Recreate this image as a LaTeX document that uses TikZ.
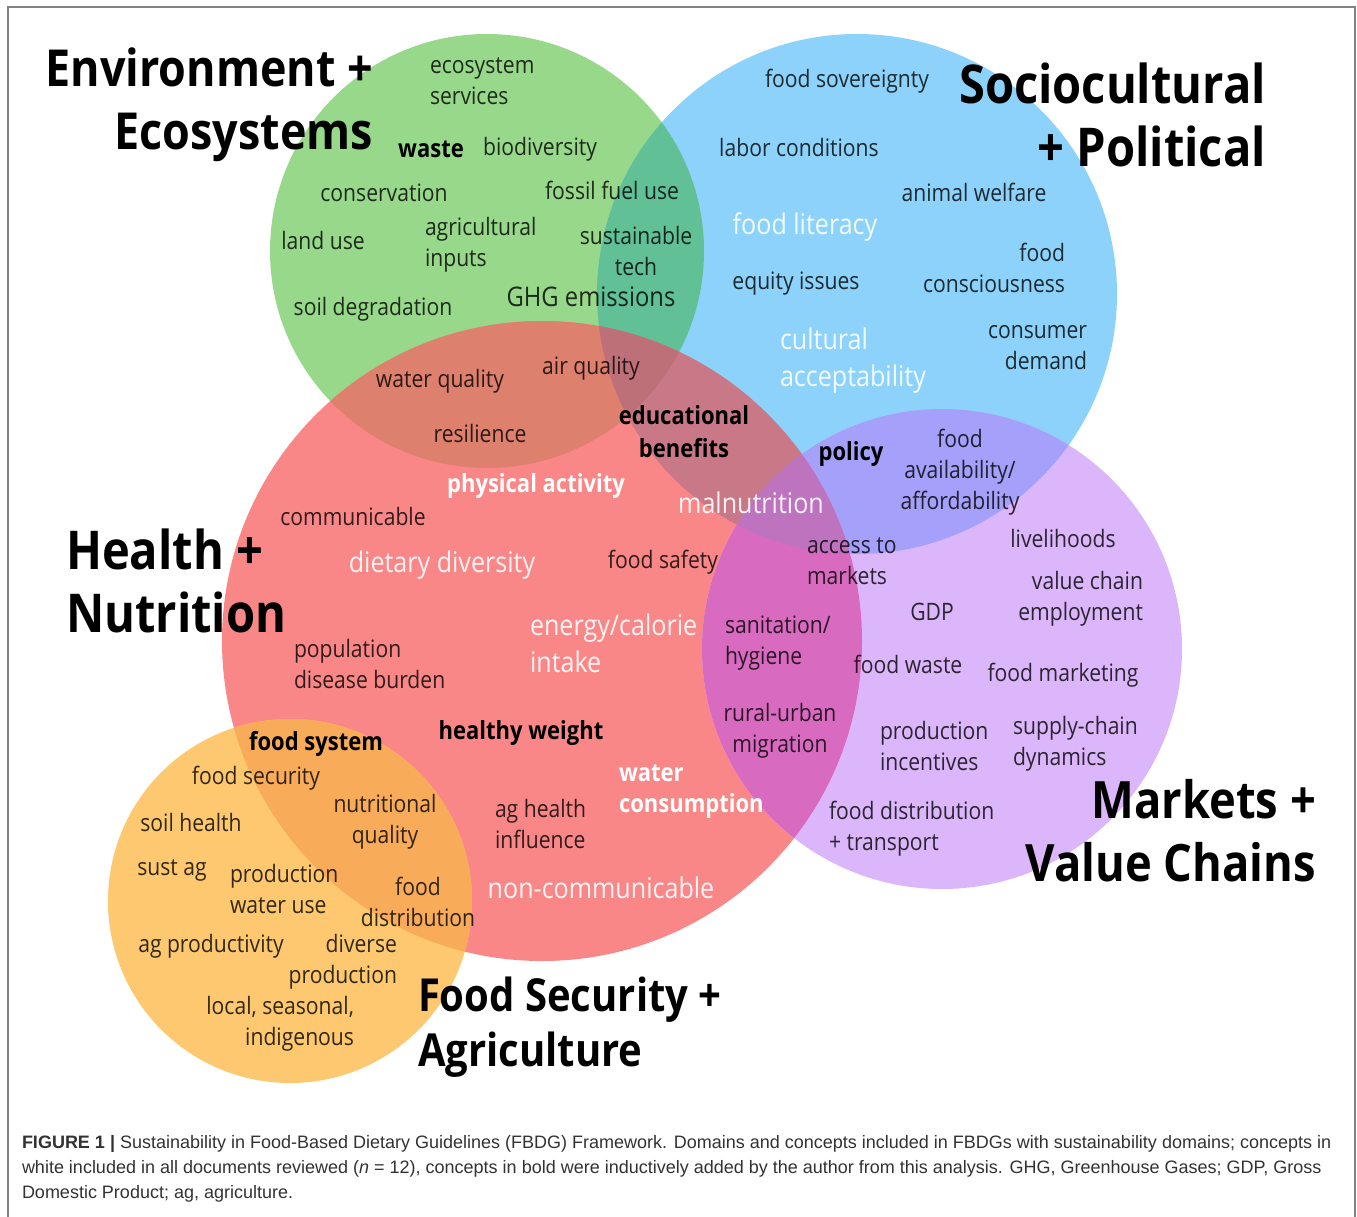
\documentclass[tikz,border=0pt]{standalone}
\usepackage{fontspec}
\setmainfont{Open Sans}[FakeStretch=0.88]
\newfontfamily\capfont{Liberation Sans}[FakeStretch=1.0]
\definecolor{c97d88b}{RGB}{151,216,139}
\definecolor{c8cd2fa}{RGB}{140,210,250}
\definecolor{cfa8787}{RGB}{250,135,135}
\definecolor{cdcb6fa}{RGB}{220,182,250}
\definecolor{cfdc870}{RGB}{253,200,112}
\definecolor{c62c096}{RGB}{98,192,150}
\definecolor{cde806e}{RGB}{222,128,110}
\definecolor{cc87887}{RGB}{200,120,135}
\definecolor{cd86bc0}{RGB}{216,107,192}
\definecolor{ca5a0fa}{RGB}{165,160,250}
\definecolor{cf8ac5a}{RGB}{248,172,90}
\definecolor{cbe7078}{RGB}{190,112,120}
\definecolor{cbe73be}{RGB}{190,115,190}
\definecolor{c828282}{RGB}{130,130,130}
\definecolor{c323232}{RGB}{50,50,50}
\tikzset{
  lbl/.style={text=black, text opacity=0.8, font=\fontsize{24}{31}\selectfont},
  lblbig/.style={text=black, text opacity=0.8, font=\fontsize{27}{31}\selectfont},
  lblw/.style={text=white, text opacity=0.9, font=\fontsize{28.5}{37}\selectfont},
  lblb/.style={text=black, font=\bfseries\fontsize{25}{33}\selectfont},
  lblbw/.style={text=white, font=\bfseries\fontsize{25}{31}\selectfont},
  dom/.style={text=black, font=\bfseries\fontsize{#1}{63}\selectfont},
}

\begin{document}
\begin{tikzpicture}[y=1pt, x=1pt, yscale=-1, inner sep=0pt, outer sep=0pt]
  \useasboundingbox (0,0) rectangle (1357,1217);
  \path[draw=c828282, line width=1.2pt] (8,1230) -- (8,7) -- (1355,7) -- (1355,1230);

  % circles
  \coordinate (cG) at (487,251);
  \coordinate (cB) at (857,294);
  \coordinate (cR) at (542,641);
  \coordinate (cP) at (942,649);
  \coordinate (cO) at (290,901);
  \path[fill=c97d88b] (cG) circle (217pt);
  \path[fill=c8cd2fa] (cB) circle (260pt);
  \path[fill=cfa8787] (cR) circle (320pt);
  \path[fill=cdcb6fa] (cP) circle (240pt);
  \path[fill=cfdc870] (cO) circle (182pt);

  % overlaps
  \begin{scope}
    \clip (cG) circle (217pt);
    \path[fill=c62c096] (cB) circle (260pt);
    \path[fill=cde806e] (cR) circle (320pt);
  \end{scope}
  \begin{scope}
    \clip (cB) circle (260pt);
    \path[fill=cc87887] (cR) circle (320pt);
    \path[fill=ca5a0fa] (cP) circle (240pt);
  \end{scope}
  \begin{scope}
    \clip (cR) circle (320pt);
    \path[fill=cd86bc0] (cP) circle (240pt);
    \path[fill=cf8ac5a] (cO) circle (182pt);
  \end{scope}
  \begin{scope}
    \clip (cG) circle (217pt);
    \clip (cB) circle (260pt);
    \path[fill=cbe7078] (cR) circle (320pt);
  \end{scope}
  \begin{scope}
    \clip (cB) circle (260pt);
    \clip (cP) circle (240pt);
    \path[fill=cbe73be] (cR) circle (320pt);
  \end{scope}

  % domain titles
  \node[dom=51, anchor=east, align=right] (env) at (373,105) {Environment +\\Ecosystems};
  \node[dom=53.5, anchor=east, align=right] (socio) at (1266,115) {Sociocultural\\+ Political};
  \node[dom=53.5, anchor=west, align=left] (health) at (66,581) {Health +\\Nutrition};
  \node[dom=51.5, anchor=east, align=right] (markets) at (1316,831) {Markets +\\Value Chains};
  \node[anchor=west, align=left, text=black, font=\bfseries\fontsize{45.5}{55}\selectfont] (foodsec) at (418,1027) {Food Security +\\Agriculture};

  % environment + ecosystems
  \node[lbl, anchor=west, align=left] (ecoserv) at (430,81) {ecosystem\\services};
  \node[lblb] (waste) at (431,149) {waste};
  \node[lbl] (biodiv) at (540,149) {biodiversity};
  \node[lbl] (conserv) at (384,193) {conservation};
  \node[lbl] (fossil) at (612,190) {fossil fuel use};
  \node[lbl] (landuse) at (323,240) {land use};
  \node[lbl, anchor=west, align=left] (aginputs) at (425,245) {agricultural\\inputs};
  \node[lbl, align=center] (susttech) at (636,251) {sustainable\\tech};
  \node[lblbig] (ghg) at (591,297) {GHG emissions};
  \node[lbl] (soildeg) at (373,309) {soil degradation};
  \node[lbl] (waterq) at (440,381) {water quality};
  \node[lbl] (airq) at (591,368) {air quality};
  \node[lbl] (resil) at (480,433) {resilience};

  % sociocultural + political
  \node[lbl] (sovereign) at (847,81) {food sovereignty};
  \node[lbl] (labor) at (799,148) {labor conditions};
  \node[lbl] (animal) at (974,192) {animal welfare};
  \node[lblw] (literacy) at (805,227) {food literacy};
  \node[lbl, anchor=east, align=right] (conscious) at (1065,268) {food\\consciousness};
  \node[lbl] (equity) at (796,284) {equity issues};
  \node[lblw, anchor=west, align=left] (cultural) at (780,361) {cultural\\acceptability};
  \node[lbl, anchor=east, align=right] (consumer) at (1087,348) {consumer\\demand};
  \node[lblb, align=center] (educ) at (684,432) {educational\\benefits};
  \node[lblb] (policy) at (851,454) {policy};
  \node[lbl, align=center] (avail) at (960,472) {food\\availability/\\affordability};
  \node[lblw] (malnut) at (751,503) {malnutrition};

  % health + nutrition
  \node[lblbw] (physact) at (536,486) {physical activity};
  \node[lbl] (commun) at (353,516) {communicable};
  \node[lblw] (dietdiv) at (442,565) {dietary diversity};
  \node[lbl] (safety) at (663,562) {food safety};
  \node[lblw, anchor=west, align=left] (energy) at (530,643) {energy/calorie\\intake};
  \node[lbl, anchor=west, align=left] (burden) at (294,664) {population\\disease burden};
  \node[lblb] (weight) at (521,733) {healthy weight};
  \node[lblbw, anchor=west, align=left] (waterc) at (619,792) {water\\consumption};
  \node[lbl, anchor=west, align=left] (aghealth) at (495,824) {ag health\\influence};
  \node[lblw] (noncomm) at (601,888) {non-communicable};

  % markets + value chains
  \node[lbl, anchor=west, align=left] (access) at (807,561) {access to\\markets};
  \node[lbl] (livelihood) at (1063,538) {livelihoods};
  \node[lbl, anchor=east, align=right] (employ) at (1143,599) {value chain\\employment};
  \node[lbl] (gdp) at (932,612) {GDP};
  \node[lbl, anchor=west, align=left] (sanit) at (725,643) {sanitation/\\hygiene};
  \node[lbl] (foodwaste) at (908,664) {food waste};
  \node[lbl] (marketing) at (1063,675) {food marketing};
  \node[lbl, align=center] (rural) at (780,731) {rural-urban\\migration};
  \node[lbl, anchor=west, align=left] (incent) at (880,746) {production\\incentives};
  \node[lbl, anchor=west, align=left] (supply) at (1013,744) {supply-chain\\dynamics};
  \node[lbl, anchor=west, align=left] (distrib) at (829,829) {food distribution\\+ transport};

  % food security + agriculture
  \node[lblb] (foodsys) at (316,744) {food system};
  \node[lbl] (security) at (256,778) {food security};
  \node[lbl] (soilh) at (191,822) {soil health};
  \node[lbl, align=center] (nutq) at (385,822) {nutritional\\quality};
  \node[lbl] (sustag) at (172,870) {sust ag};
  \node[lbl, anchor=west, align=left] (prodwater) at (230,889) {production\\water use};
  \node[lbl, align=center] (fooddist) at (418,902) {food\\distribution};
  \node[lbl] (agprod) at (211,946) {ag productivity};
  \node[lbl, anchor=east, align=right] (diverse) at (397,962) {diverse\\production};
  \node[lbl, anchor=east, align=right] (local) at (354,1024) {local, seasonal,\\indigenous};

  % caption
  \node[anchor=north west, align=left, text=c323232, font=\capfont\fontsize{18}{25}\selectfont] (caption) at (22,1135)
    {\textbf{FIGURE 1 |} Sustainability in Food-Based Dietary Guidelines (FBDG) Framework. Domains and concepts included in FBDGs with sustainability domains; concepts in\\
     white included in all documents reviewed (\textit{n} = 12), concepts in bold were inductively added by the author from this analysis. GHG, Greenhouse Gases; GDP, Gross\\
     Domestic Product; ag, agriculture.};
\end{tikzpicture}
\end{document}
